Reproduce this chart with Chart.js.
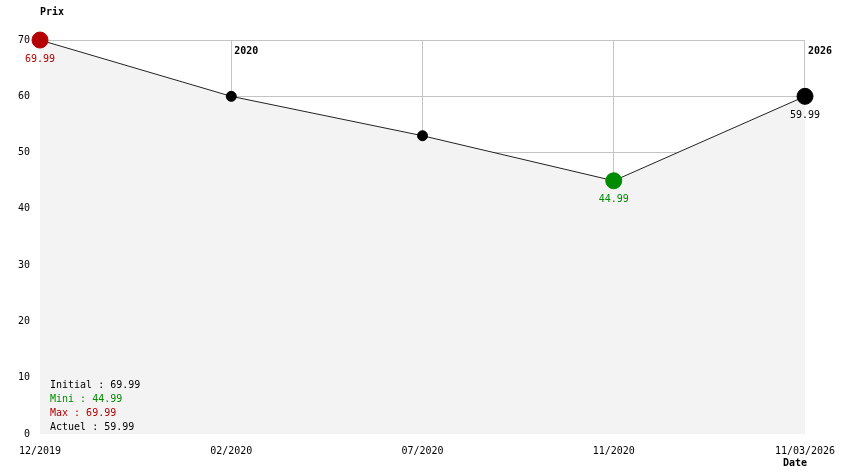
<!DOCTYPE html>
<html>
<head>
<meta charset="utf-8">
<script src="https://cdn.jsdelivr.net/npm/chart.js@4/dist/chart.umd.min.js"></script>
<style>
  html, body { margin: 0; padding: 0; background: #fff; }
  #wrap { width: 844px; height: 474px; }
</style>
</head>
<body>
<div id="wrap"><canvas id="prixChart"></canvas></div>
<script>
// Données du graphique
const dates = ["12/2019", "02/2020", "07/2020", "11/2020", "11/03/2026"];
const prix = [69.99, 59.99, 52.99, 44.99, 59.99];
const yTicks = [0, 10, 20, 30, 40, 50, 60, 70];
const yearIndex = [1, 4];
const yearText = ["2020", "2026"];

const FONT = "'DejaVu Sans Mono', 'Liberation Mono', monospace";
const RED = "#b40000";
const GREEN = "#008c00";
const GRID = "#c4c4c4";

const iMax = prix.indexOf(Math.max(...prix));
const iMin = prix.indexOf(Math.min(...prix));
const iLast = prix.length - 1;

// Couleur et taille des points
const pointColors = prix.map((v, i) => i === iMax ? RED : i === iMin ? GREEN : "#000");
const pointSizes = prix.map((v, i) => (i === iMax || i === iMin || i === iLast) ? 8 : 5);

const fmt = v => v.toFixed(2);

// Dernière ligne verticale, tracée à la main pour qu'elle reste sous le remplissage
const lastGrid = {
  id: "lastGrid",
  beforeDatasetsDraw(chart) {
    const c = chart.ctx;
    const area = chart.chartArea;
    const x = Math.round(chart.scales.x.getPixelForValue(iLast)) - 0.5;
    c.save();
    c.strokeStyle = GRID;
    c.lineWidth = 1;
    c.beginPath();
    c.moveTo(x, area.top);
    c.lineTo(x, area.bottom);
    c.stroke();
    c.restore();
  }
};

// Textes en plus : titres, années, valeurs et résumé
const extras = {
  id: "extras",
  afterDraw(chart) {
    const c = chart.ctx;
    const area = chart.chartArea;
    const meta = chart.getDatasetMeta(0);
    c.save();
    c.textBaseline = "middle";

    c.font = "bold 10px " + FONT;
    c.fillStyle = "#000";
    c.textAlign = "left";
    c.fillText("Prix", 40, 12);
    c.fillText("Date", 783, 463);

    yearIndex.forEach((idx, k) => {
      const x = chart.scales.x.getPixelForValue(idx);
      c.fillText(yearText[k], x + 3, area.top + 11);
    });

    c.font = "10px " + FONT;
    c.textAlign = "center";
    [iMax, iMin, iLast].forEach(i => {
      const p = meta.data[i];
      c.fillStyle = pointColors[i];
      c.fillText(fmt(prix[i]), p.x, p.y + 19);
    });

    c.textAlign = "left";
    const lines = [
      ["Initial : " + fmt(prix[0]), "#000"],
      ["Mini : " + fmt(prix[iMin]), GREEN],
      ["Max : " + fmt(prix[iMax]), RED],
      ["Actuel : " + fmt(prix[iLast]), "#000"]
    ];
    lines.forEach((l, k) => {
      c.fillStyle = l[1];
      c.fillText(l[0], 50, 385 + k * 14);
    });
    c.restore();
  }
};

const ctx = document.getElementById("prixChart").getContext("2d");

const chart = new Chart(ctx, {
  type: "line",
  data: {
    labels: dates,
    datasets: [{
      data: prix,
      borderColor: "#222",
      borderWidth: 1,
      backgroundColor: "#f3f3f3",
      fill: "origin",
      tension: 0,
      clip: false,
      pointBackgroundColor: pointColors,
      pointBorderColor: pointColors,
      pointRadius: pointSizes,
      pointHoverRadius: pointSizes
    }]
  },
  options: {
    responsive: true,
    maintainAspectRatio: false,
    animation: false,
    events: [],
    layout: { padding: { top: 40, right: 39, left: 0, bottom: 0 } },
    plugins: {
      legend: { display: false },
      tooltip: { enabled: false }
    },
    scales: {
      x: {
        offset: false,
        grid: {
          color: c => c.index === iLast ? "rgba(0,0,0,0)" : GRID,
          drawTicks: false
        },
        border: { display: false },
        ticks: {
          color: "#000",
          font: { family: FONT, size: 10 },
          padding: 11,
          maxRotation: 0,
          autoSkip: false
        },
        afterFit(scale) {
          scale.height = 40;
          scale.paddingLeft = 0;
          scale.paddingRight = 0;
        }
      },
      y: {
        min: 0,
        max: 70,
        grid: {
          color: c => c.tick && c.tick.value === 0 ? "rgba(0,0,0,0)" : GRID,
          drawTicks: false
        },
        border: { display: false },
        afterBuildTicks(scale) { scale.ticks = yTicks.map(v => ({ value: v })); },
        ticks: {
          color: "#000",
          font: { family: FONT, size: 10 },
          padding: 10
        },
        afterFit(scale) { scale.width = 40; }
      }
    }
  },
  plugins: [lastGrid, extras]
});
</script>
</body>
</html>
